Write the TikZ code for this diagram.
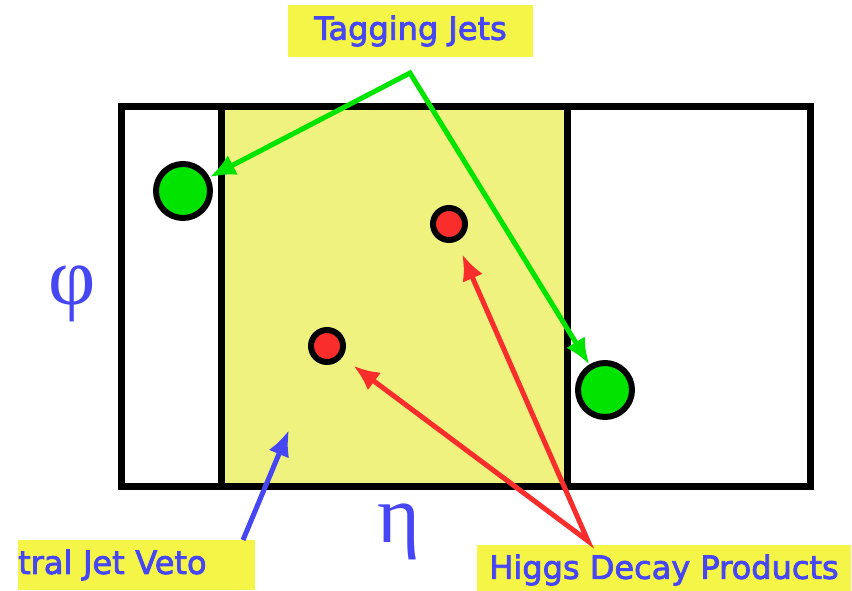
\documentclass[tikz,border=0pt]{standalone}
\usepackage{fontspec}
\newfontfamily\labelfont[FakeBold=2.5]{DejaVu Sans}
\newfontfamily\greekfont{Liberation Serif}
\usepackage{tikz}
\usetikzlibrary{arrows.meta,positioning}
\definecolor{bandYellow}{RGB}{240,242,128}
\definecolor{labelYellow}{RGB}{245,245,72}
\definecolor{textBlue}{RGB}{70,70,245}
\definecolor{jetGreen}{RGB}{0,228,0}
\definecolor{higgsRed}{RGB}{250,45,45}

\begin{document}
\begin{tikzpicture}[x=1pt,y=-1pt,
        caption/.style={fill=labelYellow, text=textBlue, inner sep=0pt,
          font=\labelfont\fontsize{32}{32}\selectfont},
        greek/.style={text=textBlue, inner sep=0pt, font=\greekfont\fontsize{82}{82}\selectfont},
        jet/.style={circle, draw=black, line width=6pt, fill=jetGreen,
          minimum size=54pt, inner sep=0pt},
        decay/.style={circle, draw=black, line width=6pt, fill=higgsRed,
          minimum size=32pt, inner sep=0pt},
        tagarrow/.style={draw=jetGreen, line width=5pt,
          {Latex[length=26pt,width=22pt]}-{Latex[length=26pt,width=22pt]}},
        decayarrow/.style={draw=higgsRed, line width=5pt, shorten <=14pt, shorten >=14pt,
          {Latex[length=26pt,width=22pt]}-{Latex[length=26pt,width=22pt]}},
        vetoarrow/.style={draw=textBlue, line width=5pt, -{Latex[length=26pt,width=22pt]}}
      ]
        \useasboundingbox (0,0) rectangle (852,590);
        % eta-phi plane with the central region
        \fill[bandYellow] (221,106) rectangle (567,486);
        \draw[line width=7pt] (121,106) rectangle (810,486);
        \draw[line width=7pt] (221,106) -- (221,486);
        \draw[line width=7pt] (567,106) -- (567,486);
        \node[greek] (phi) at (72,294) {φ};
        \node[greek] (eta) at (399,532) {η};
        % jets
        \node[jet] (jetL) at (183,191) {};
        \node[jet] (jetR) at (605,390) {};
        \node[decay] (decayA) at (449,224) {};
        \node[decay] (decayB) at (327,346) {};
        % labels
        \node[caption, minimum width=245pt, minimum height=52pt] (tagging) at (410.5,31) {Tagging Jets};
        \node[caption, anchor=west, text width=237pt, minimum height=50pt, align=left] (veto) at (18,565) {tral Jet Veto};
        \node[caption, minimum width=374pt, minimum height=50pt] (higgs) at (664,570) {Higgs Decay Products};
        \coordinate (tagfork) at (410,73);
        \coordinate (higgsfork) at (588,541);
        \coordinate (vetotail) at (243,540);
        \coordinate (vetotip) at (289,430);
        % arrows
        \draw[tagarrow] (jetL) -- (tagfork) -- (jetR);
        \draw[decayarrow] (decayA) -- (higgsfork) -- (decayB);
        \draw[vetoarrow] (vetotail) -- (vetotip);
      \end{tikzpicture}
\end{document}
